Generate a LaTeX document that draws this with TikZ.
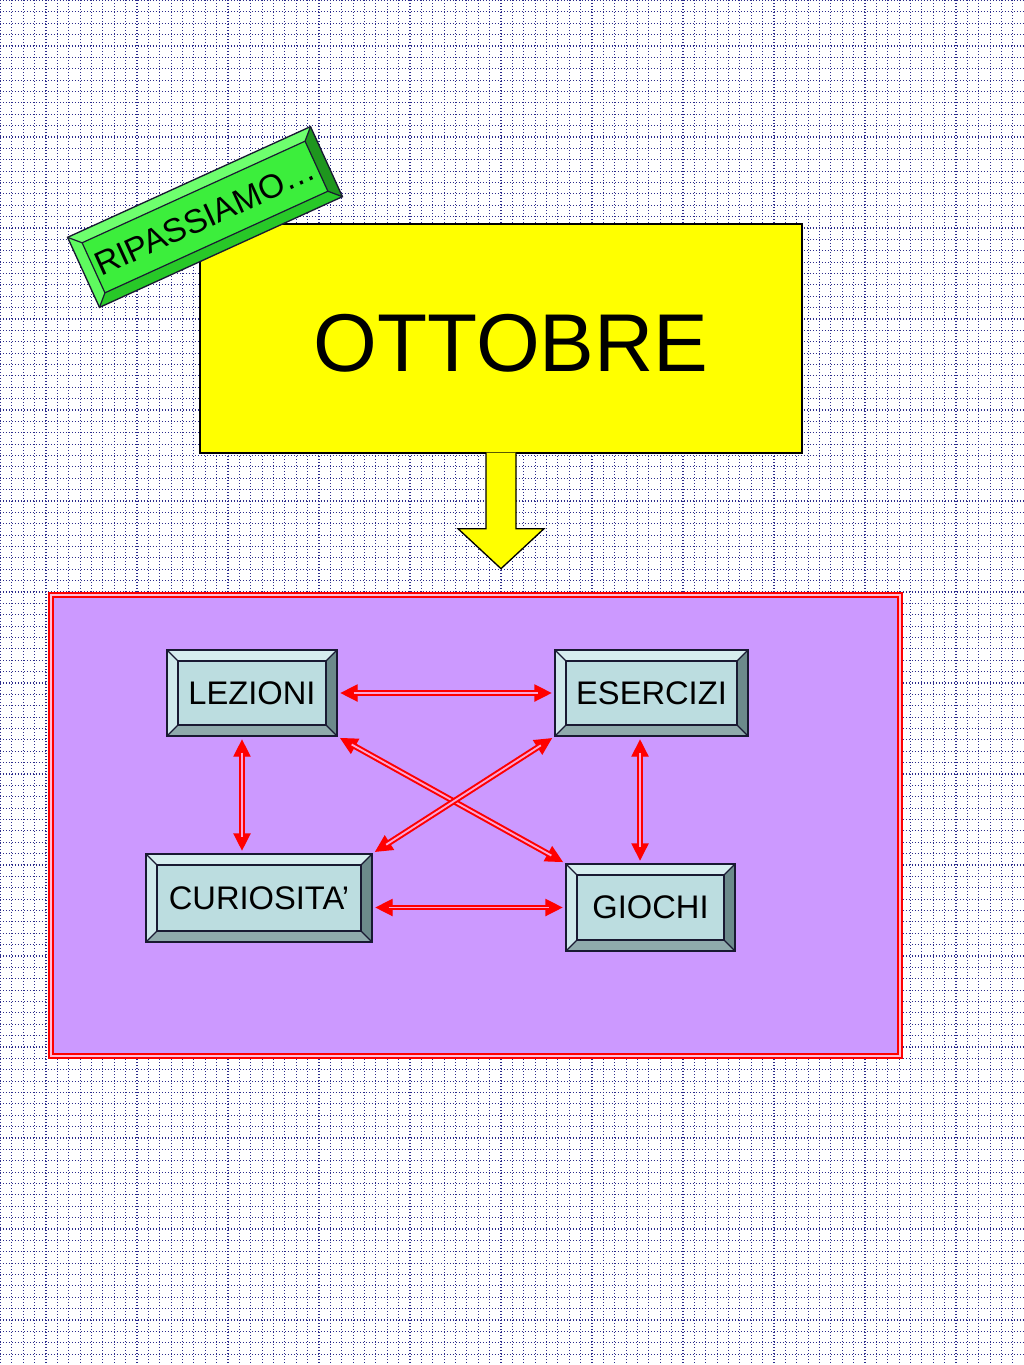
\documentclass[tikz,border=0pt]{standalone}
\usepackage{fontspec}
\setmainfont{Liberation Sans}
\usetikzlibrary{arrows.meta,calc}
\definecolor{gridc}{RGB}{45,45,140}
\definecolor{panelc}{RGB}{204,153,255}
\definecolor{panelgap}{RGB}{255,190,215}
\definecolor{shaftin}{RGB}{250,165,215}
\definecolor{bevc}{RGB}{25,25,50}
% cyan bevel set
\definecolor{cyface}{RGB}{188,221,224}
\definecolor{cytop}{RGB}{214,237,239}
\definecolor{cyleft}{RGB}{207,233,235}
\definecolor{cybot}{RGB}{143,170,172}
\definecolor{cyright}{RGB}{108,138,139}
% green bevel set
\definecolor{grface}{RGB}{60,238,60}
\definecolor{grtop}{RGB}{110,255,110}
\definecolor{grleft}{RGB}{95,250,95}
\definecolor{grbot}{RGB}{40,200,40}
\definecolor{grright}{RGB}{30,150,30}
\definecolor{yel}{RGB}{255,255,0}
\tikzset{
  gridline/.style={draw=gridc, line width=0.85pt, dash pattern=on 1.1pt off 1.15pt},
  bevline/.style={draw=bevc, line width=0.9pt},
  bevnode/.style={draw=bevc, line width=1pt, inner sep=0pt, transform shape, text=black,
    font=\fontsize{24.5pt}{28pt}\selectfont},
  tipline/.style={draw=red, line width=1pt, shorten <=2pt, shorten >=2pt,
    {Triangle[length=13pt 0 0,width=13pt 0 0]}-{Triangle[length=13pt 0 0,width=13pt 0 0]}},
  shaft/.style={draw=red, line width=1.5pt, double=shaftin, double distance=1.4pt,
    shorten <=12pt, shorten >=12pt},
  panel/.style={draw=red, line width=1.4pt, double=panelgap, double distance=1.3pt,
    fill=panelc, inner sep=0pt},
  ybox/.style={draw=black, fill=yel, line width=1pt, inner sep=0pt},
  yarrow/.style={draw=black, fill=yel, line width=1pt, line join=miter}
}
\newcommand{\bevelbox}[8]{%
  \fill[#8face] (#2,#3) rectangle (#4,#5);
  \fill[#8top] (#2,#3) -- (#4,#3) -- ({#4-#6},{#3+#6}) -- ({#2+#6},{#3+#6}) -- cycle;
  \fill[#8bot] (#2,#5) -- (#4,#5) -- ({#4-#6},{#5-#6}) -- ({#2+#6},{#5-#6}) -- cycle;
  \fill[#8left] (#2,#3) -- ({#2+#6},{#3+#6}) -- ({#2+#6},{#5-#6}) -- (#2,#5) -- cycle;
  \fill[#8right] (#4,#3) -- ({#4-#6},{#3+#6}) -- ({#4-#6},{#5-#6}) -- (#4,#5) -- cycle;
  \draw[bevline] ({#2+#6},{#3+#6}) rectangle ({#4-#6},{#5-#6});
  \draw[bevline] (#2,#3) -- ({#2+#6},{#3+#6}) (#4,#3) -- ({#4-#6},{#3+#6})
     (#4,#5) -- ({#4-#6},{#5-#6}) (#2,#5) -- ({#2+#6},{#5-#6});
  \node[bevnode, minimum width={(#4-#2)*0.75pt}, minimum height={(#5-#3)*0.75pt}]
     (#1) at ({(#2+#4)/2},{(#3+#5)/2}) {#7};
}
\newcommand{\dlink}[2]{\draw[tipline] #1 -- #2; \draw[shaft] #1 -- #2;}
\begin{document}
\begin{tikzpicture}[x=0.75pt,y=-0.75pt]
\useasboundingbox (0,0) rectangle (1024,1365);
\fill[white] (0,0) rectangle (1024,1365);
% grid
\foreach \i in {0,...,90} \draw[gridline] ({0.5+\i*11.375},0) -- ({0.5+\i*11.375},1365);
\foreach \j in {0,...,120} \draw[gridline] (0,{0.5+\j*11.375}) -- (1024,{0.5+\j*11.375});

% yellow title box
\node[ybox, minimum width=451.5pt, minimum height=171.75pt] (ott) at (501,338.5) {};
\node[font=\fontsize{61.5pt}{64pt}\selectfont, inner sep=0pt] (ottt) at (511,343) {OTTOBRE};
% big arrow
\path[yarrow] ($(ott.south)+(-15,-1)$) -- ($(ott.south)+(-15,75)$) -- ($(ott.south)+(-43,75)$)
  -- ($(ott.south)+(0,115)$) -- ($(ott.south)+(43,75)$) -- ($(ott.south)+(15,75)$)
  -- ($(ott.south)+(15,-1)$);

% banner
\begin{scope}[shift={(205,217)}, rotate=24.5]
  \bevelbox{rip}{-133.5}{-38.5}{133.5}{38.5}{11}{\fontsize{25pt}{27pt}\selectfont RIPASSIAMO…}{gr}
\end{scope}

% panel
\node[panel, minimum width=636.75pt, minimum height=345.75pt] (pan) at (475.3,825.3) {};

% boxes
\bevelbox{lez}{167}{650}{337}{736}{11}{LEZIONI}{cy}
\bevelbox{ese}{555}{650}{748}{736}{11}{ESERCIZI}{cy}
\bevelbox{cur}{146}{854}{372}{942}{11}{CURIOSITA’}{cy}
\bevelbox{gio}{566}{864}{735}{951}{11}{GIOCHI}{cy}

% connectors
\coordinate (lt) at ([xshift=-7.5pt]lez.south);
\coordinate (et) at ([xshift=-8.6pt]ese.south);
\dlink{(lez.east)}{(ese.west)}
\dlink{(lt)}{(lt |- cur.north)}
\dlink{(et)}{(et |- gio.north)}
\dlink{(cur.east |- gio.west)}{(gio.west)}
\dlink{(lez.south east)}{(gio.north west)}
\dlink{(ese.south west)}{(cur.north east)}
\end{tikzpicture}
\end{document}
